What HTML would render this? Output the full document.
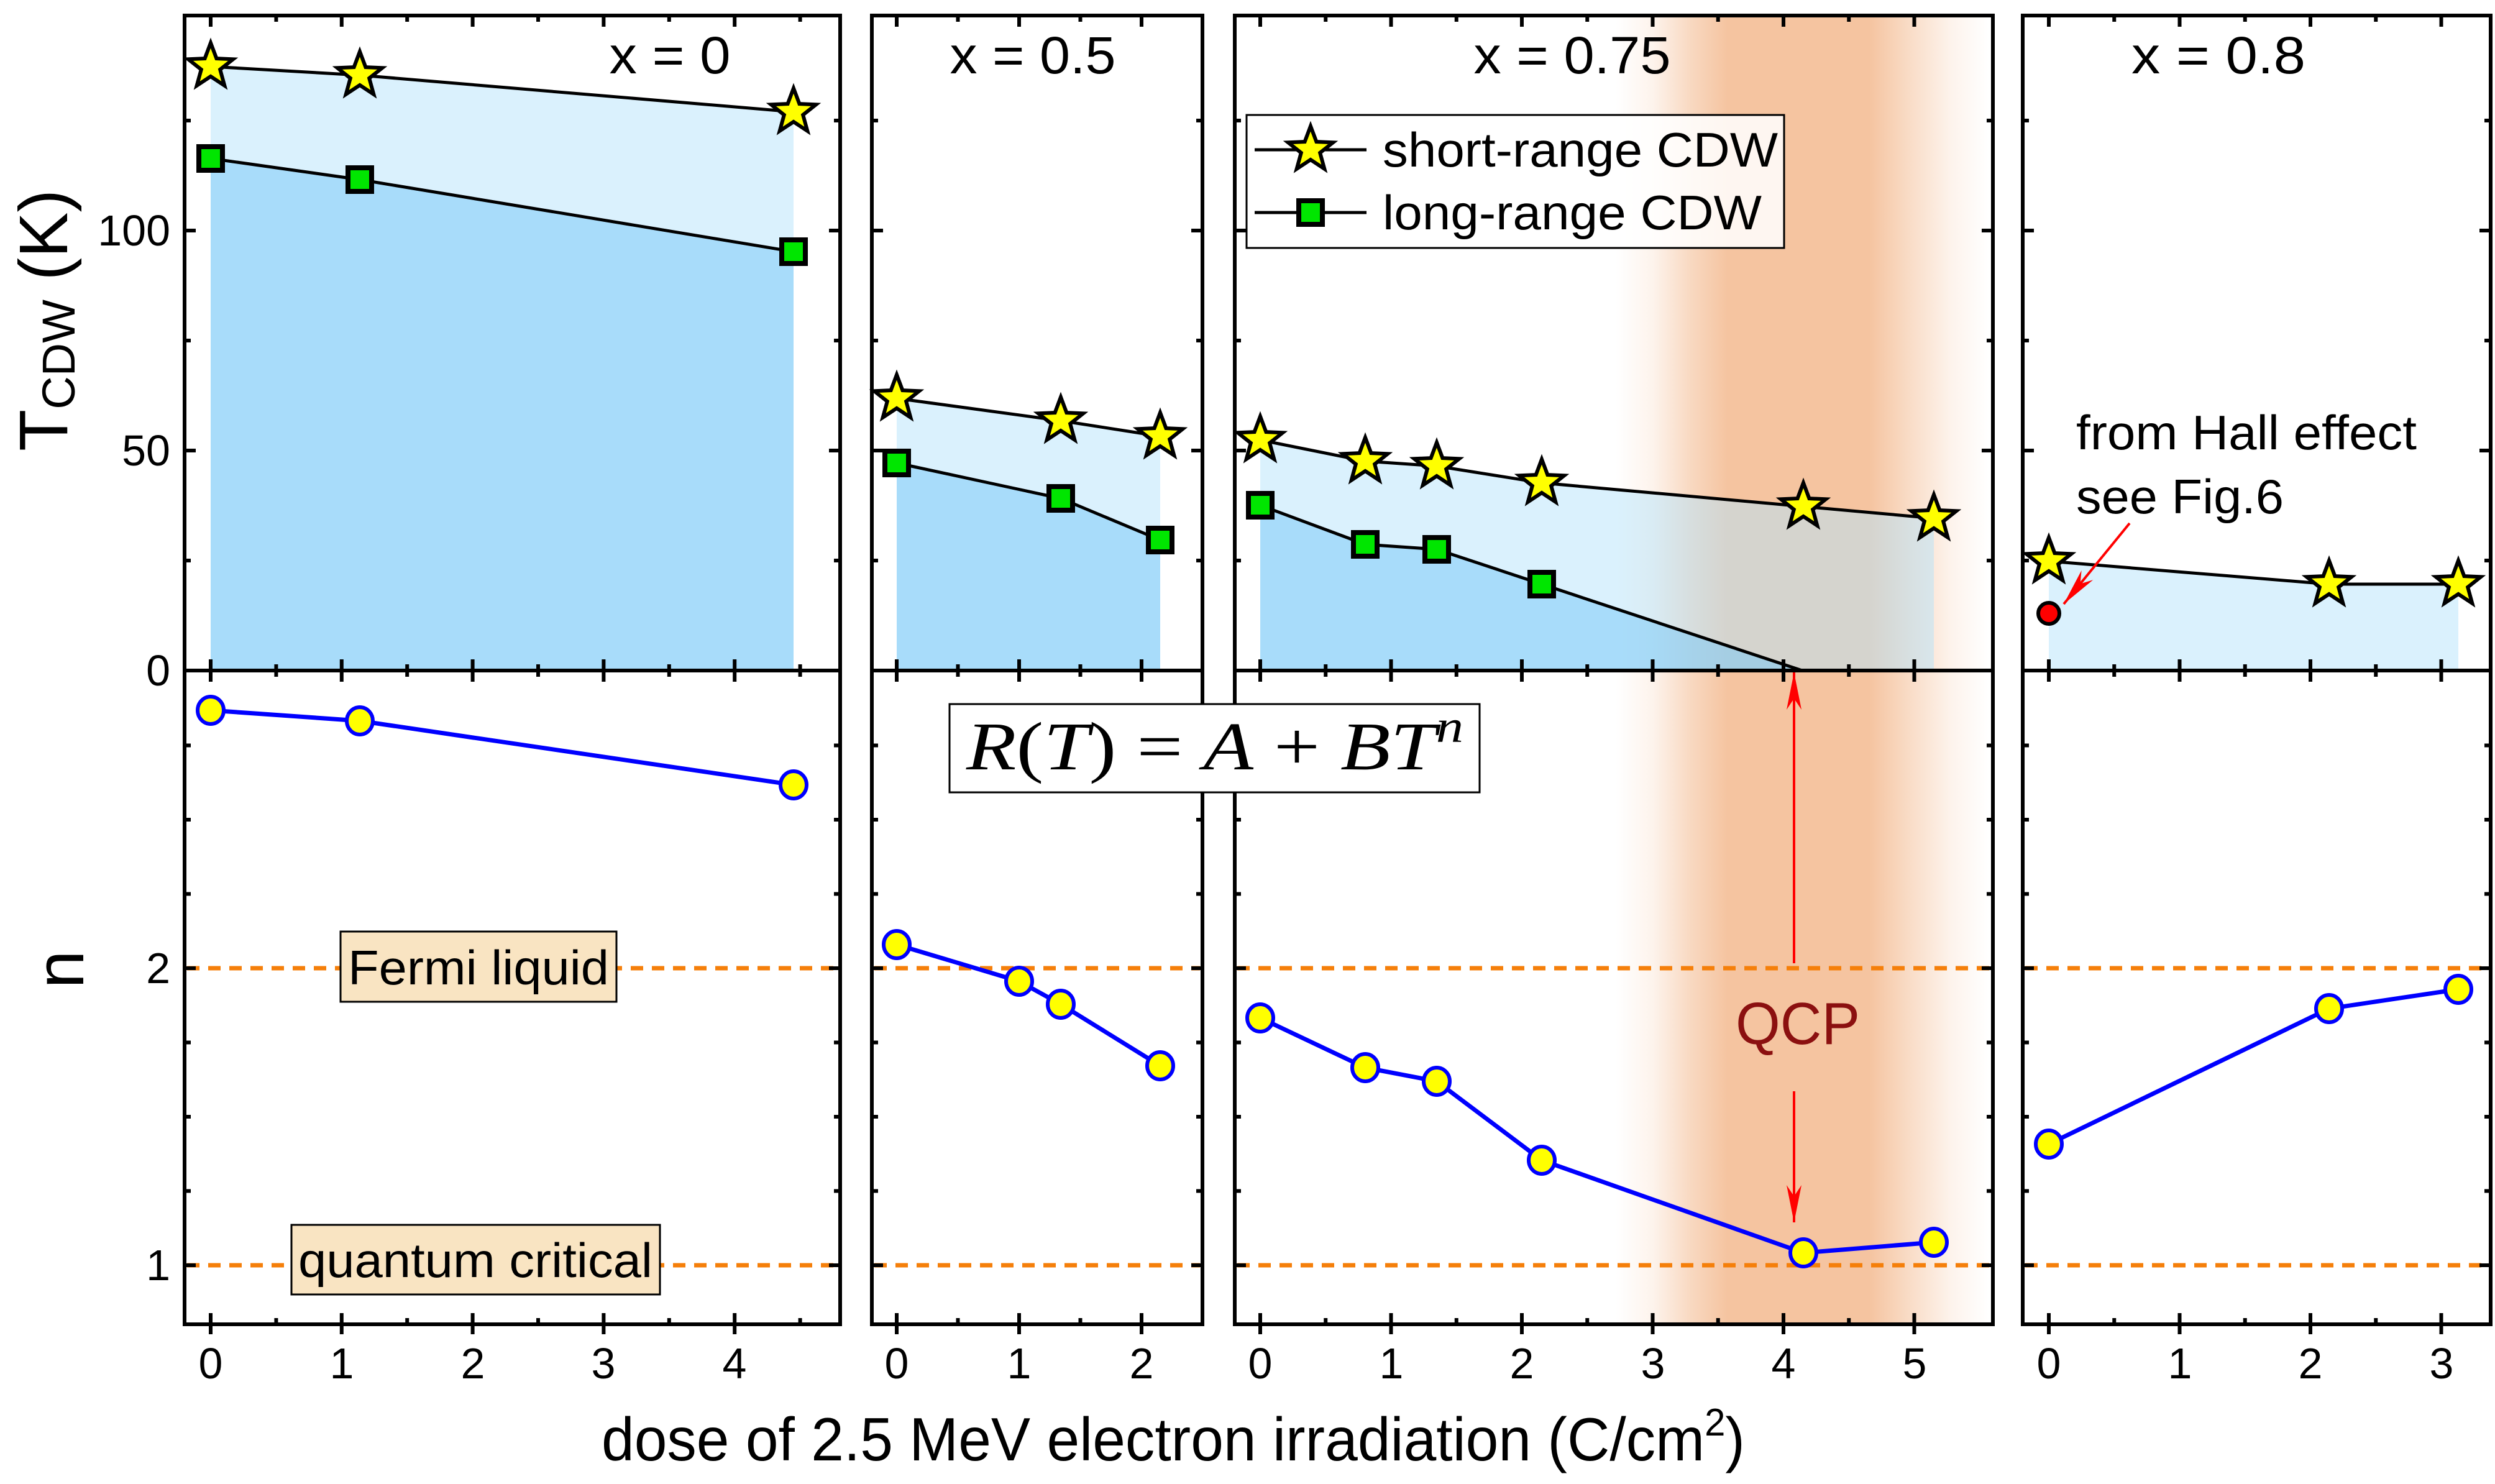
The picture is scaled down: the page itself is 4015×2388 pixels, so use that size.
<!DOCTYPE html>
<html><head><meta charset="utf-8"><style>
html,body{margin:0;padding:0;background:#fff;}
svg{display:block;}
text{font-family:"Liberation Sans",sans-serif;}
</style></head><body>
<svg id="s" width="4015" height="2388" viewBox="0 0 4015 2388" xmlns="http://www.w3.org/2000/svg">
<defs>
<linearGradient id="band" x1="2600" x2="3200" y1="0" y2="0" gradientUnits="userSpaceOnUse">
<stop offset="0" stop-color="#f5c4a0" stop-opacity="0"/>
<stop offset="0.1" stop-color="#f5c4a0" stop-opacity="0.2"/>
<stop offset="0.2" stop-color="#f5c4a0" stop-opacity="0.65"/>
<stop offset="0.3" stop-color="#f5c4a0" stop-opacity="1"/>
<stop offset="0.68" stop-color="#f5c4a0" stop-opacity="1"/>
<stop offset="0.8" stop-color="#f5c4a0" stop-opacity="0.55"/>
<stop offset="0.9" stop-color="#f5c4a0" stop-opacity="0.2"/>
<stop offset="1" stop-color="#f5c4a0" stop-opacity="0"/>
</linearGradient>
</defs>
<rect x="2600" y="25" width="600" height="2106" fill="url(#band)"/>
<g id="g"></g>
<g font-size="84" text-anchor="middle">
<text x="1078" y="118" textLength="195" lengthAdjust="spacingAndGlyphs">x = 0</text>
<text x="1662" y="118" textLength="267" lengthAdjust="spacingAndGlyphs">x = 0.5</text>
<text x="2530" y="118" textLength="317" lengthAdjust="spacingAndGlyphs">x = 0.75</text>
<text x="3570" y="118" textLength="280" lengthAdjust="spacingAndGlyphs">x = 0.8</text>
</g>
<g font-size="70" text-anchor="end">
<text x="274" y="395">100</text><text x="274" y="749">50</text><text x="274" y="1103">0</text>
<text x="274" y="1582">2</text><text x="274" y="2060">1</text>
</g>
<g font-size="70" text-anchor="middle">
<text x="339" y="2218">0</text><text x="550" y="2218">1</text><text x="761" y="2218">2</text><text x="971" y="2218">3</text><text x="1182" y="2218">4</text>
<text x="1443" y="2218">0</text><text x="1640" y="2218">1</text><text x="1837" y="2218">2</text>
<text x="2028" y="2218">0</text><text x="2239" y="2218">1</text><text x="2449" y="2218">2</text><text x="2660" y="2218">3</text><text x="2870" y="2218">4</text><text x="3081" y="2218">5</text>
<text x="3297" y="2218">0</text><text x="3508" y="2218">1</text><text x="3718" y="2218">2</text><text x="3929" y="2218">3</text>
</g>
<text x="968" y="2350" font-size="98" textLength="1840" lengthAdjust="spacingAndGlyphs">dose of 2.5 MeV electron irradiation (C/cm<tspan dy="-40" font-size="62">2</tspan><tspan dy="40">)</tspan></text>
<text transform="translate(108,726) rotate(-90)" font-size="110">T<tspan font-size="74" dy="12">CDW</tspan><tspan dy="-12"> (K)</tspan></text>
<text transform="translate(134,1560) rotate(-90)" font-size="110" text-anchor="middle">n</text>
<rect x="2006" y="185" width="865" height="214" fill="#fff" fill-opacity="0.85" stroke="#000" stroke-width="3"/>
<g id="g2"></g>
<text x="2225" y="268" font-size="78" textLength="636" lengthAdjust="spacingAndGlyphs">short-range CDW</text>
<text x="2225" y="369" font-size="78" textLength="610" lengthAdjust="spacingAndGlyphs">long-range CDW</text>
<text x="3341" y="723" font-size="78" textLength="548" lengthAdjust="spacingAndGlyphs">from Hall effect</text>
<text x="3341" y="826" font-size="78" textLength="334" lengthAdjust="spacingAndGlyphs">see Fig.6</text>
<rect x="1528" y="1133" width="853" height="142" fill="#fff" stroke="#000" stroke-width="3"/>
<text x="1555" y="1238" style="font-family:'Liberation Serif',serif" font-size="110" textLength="800" lengthAdjust="spacingAndGlyphs"><tspan font-style="italic">R</tspan>(<tspan font-style="italic">T</tspan>) = <tspan font-style="italic">A</tspan> + <tspan font-style="italic">BT</tspan><tspan font-style="italic" font-size="74" dy="-44">n</tspan></text>
<rect x="548" y="1499" width="444" height="113" fill="#f9e4c2" stroke="#000" stroke-width="3"/>
<text x="770" y="1584" font-size="78" text-anchor="middle" textLength="420" lengthAdjust="spacingAndGlyphs">Fermi liquid</text>
<rect x="469" y="1971" width="593" height="112" fill="#f9e4c2" stroke="#000" stroke-width="3"/>
<text x="765" y="2055" font-size="78" text-anchor="middle" textLength="570" lengthAdjust="spacingAndGlyphs">quantum critical</text>
<text x="2893" y="1680" font-size="96" text-anchor="middle" fill="#8b1010" textLength="200" lengthAdjust="spacingAndGlyphs">QCP</text>
</svg>
<script>
(function(){
var NS="http://www.w3.org/2000/svg",G=document.getElementById('g'),G2=document.getElementById('g2');
function el(t,a,p){var e=document.createElementNS(NS,t);for(var k in a)e.setAttribute(k,a[k]);(p||G).appendChild(e);return e;}
function pts(a){return a.map(function(p){return p[0]+','+p[1];}).join(' ');}
var TOP=25,MID=1079,BOT=2131;
function ty(T){return 1079-7.08*T;}
var panels=[
 {l:297,r:1352,x0:339,k:210.8,maj:[0,1,2,3,4],mn:[0.5,1.5,2.5,3.5,4.5]},
 {l:1403,r:1935,x0:1443,k:197,maj:[0,1,2],mn:[0.5,1.5]},
 {l:1987,r:3207,x0:2028,k:210.5,maj:[0,1,2,3,4,5],mn:[0.5,1.5,2.5,3.5,4.5]},
 {l:3255,r:4008,x0:3297,k:210.5,maj:[0,1,2,3],mn:[0.5,1.5,2.5]}];
var fills=[
 {st:[[339,107],[579,121],[1277,180]],sq:[[339,255],[579,289],[1277,405]]},
 {st:[[1443,641],[1707,677],[1867,702]],sq:[[1443,745],[1707,802],[1867,869]]},
 {st:[[2028,708],[2197,742],[2312,750],[2481,777],[2902,815],[3112,834]],sq:[[2028,813],[2197,876],[2312,884],[2481,940],[2900,1079]]},
 {st:[[3297,903],[3748,940],[3956,940]],sq:null}];
var circ=[[[339,1143],[579,1160],[1277,1263]],[[1443,1520],[1640,1579],[1707,1616],[1867,1715]],
 [[2028,1638],[2197,1718],[2312,1740],[2481,1867],[2902,2016],[3112,1999]],[[3297,1841],[3748,1623],[3956,1592]]];
fills.forEach(function(f){
 var a=f.st,x1=a[0][0],x2=a[a.length-1][0];
 el('polygon',{points:pts(a.concat([[x2,MID],[x1,MID]])),fill:'rgba(181,227,251,0.5)'});
 if(f.sq){var b=f.sq,e=b[b.length-1][0];var poly=b.slice();if(b[b.length-1][1]!=MID)poly.push([e,MID]);poly.push([b[0][0],MID]);
  el('polygon',{points:pts(poly),fill:'rgba(118,199,247,0.5)'});}
});
panels.forEach(function(p){
 [1558,2036].forEach(function(y){el('line',{x1:p.l+4,x2:p.r-4,y1:y,y2:y,stroke:'#f57f0a','stroke-width':7,'stroke-dasharray':'20 14'});});
});
var d='';
panels.forEach(function(p){
 [[TOP,MID],[MID,BOT]].forEach(function(yy){d+='M'+p.l+','+yy[0]+'H'+p.r+'V'+yy[1]+'H'+p.l+'Z';});
 var xs=function(v){return p.x0+p.k*v;};
 p.maj.forEach(function(v){var x=xs(v);d+='M'+x+','+TOP+'v18M'+x+','+(MID-18)+'v36M'+x+','+(BOT-18)+'v34';});
 p.mn.forEach(function(v){var x=xs(v);d+='M'+x+','+TOP+'v10M'+x+','+(MID-10)+'v20M'+x+','+(BOT-10)+'v10';});
 [[25,10],[50,18],[75,10],[100,18],[125,10]].forEach(function(t){var y=ty(t[0]);d+='M'+p.l+','+y+'h'+t[1]+'M'+p.r+','+y+'h-'+t[1];});
 [[2.75,10],[2.5,10],[2.25,10],[2,18],[1.75,10],[1.5,10],[1.25,10],[1,18]].forEach(function(t){var y=1558-478*(t[0]-2);d+='M'+p.l+','+y+'h'+t[1]+'M'+p.r+','+y+'h-'+t[1];});
});
el('path',{d:d,fill:'none',stroke:'#000','stroke-width':6});
function star(cx,cy,R,par){var r=R*0.42,a=[];for(var i=0;i<10;i++){var ang=-Math.PI/2+i*Math.PI/5,rr=i%2?r:R;a.push([(cx+rr*Math.cos(ang)).toFixed(1),(cy+rr*Math.sin(ang)).toFixed(1)]);}
 el('polygon',{points:pts(a),fill:'#ffff00',stroke:'#000','stroke-width':6,'stroke-linejoin':'miter'},par);}
function sq(cx,cy,par){el('rect',{x:cx-19,y:cy-19,width:38,height:38,fill:'#00e600',stroke:'#000','stroke-width':8},par);}
fills.forEach(function(f){
 el('polyline',{points:pts(f.st),fill:'none',stroke:'#000','stroke-width':5});
 if(f.sq)el('polyline',{points:pts(f.sq),fill:'none',stroke:'#000','stroke-width':5});
 if(f.sq)f.sq.forEach(function(p){if(p[1]!=MID)sq(p[0],p[1]);});
 f.st.forEach(function(p){star(p[0],p[1],38);});
});
circ.forEach(function(c){
 el('polyline',{points:pts(c),fill:'none',stroke:'#0000ff','stroke-width':7});
 c.forEach(function(p){el('ellipse',{cx:p[0],cy:p[1],rx:21,ry:22,fill:'#ffff00',stroke:'#0000ff','stroke-width':6});});
});
el('circle',{cx:3297,cy:987,r:17,fill:'#ff0000',stroke:'#000','stroke-width':6});
function arrow(x1,y1,x2,y2){el('line',{x1:x1,y1:y1,x2:x2,y2:y2,stroke:'#ff0000','stroke-width':4},G2);
 var dx=x2-x1,dy=y2-y1,L=Math.sqrt(dx*dx+dy*dy),ux=dx/L,uy=dy/L,h=60,w=12;
 el('polygon',{points:pts([[x2,y2],[x2-ux*h+uy*w,y2-uy*h-ux*w],[x2-ux*h*0.7,y2-uy*h*0.7],[x2-ux*h-uy*w,y2-uy*h+ux*w]]),fill:'#ff0000'},G2);}
arrow(3427,842,3321,972);
arrow(2887,1550,2887,1082);
arrow(2887,1756,2887,1967);
el('line',{x1:2019,y1:241,x2:2199,y2:241,stroke:'#000','stroke-width':5},G2);
star(2109,241,38,G2);
el('line',{x1:2019,y1:342,x2:2199,y2:342,stroke:'#000','stroke-width':5},G2);
sq(2109,342,G2);
})();
</script>
</body></html>
